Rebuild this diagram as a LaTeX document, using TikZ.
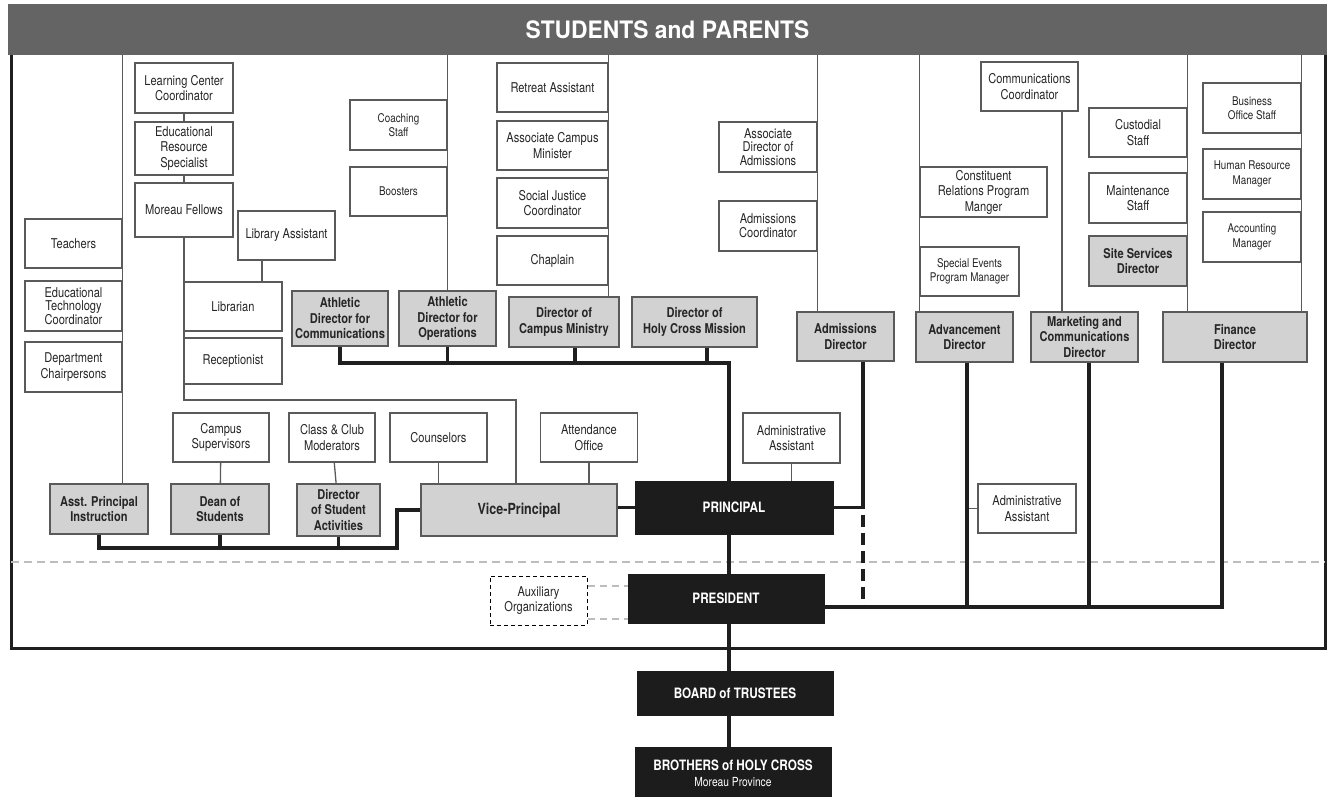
\documentclass[tikz,border=0pt]{standalone}
\usepackage{fontspec}
\setmainfont{TeX Gyre Heros}[FakeStretch=0.82]
\newfontfamily\bannerfont{TeX Gyre Heros}[FakeStretch=0.95]
\usepackage{tikz}
\definecolor{bannergray}{HTML}{646464}
\definecolor{boxline}{HTML}{5A5A5A}
\definecolor{headfill}{HTML}{D2D2D2}
\definecolor{chieffill}{HTML}{1C1C1C}
\definecolor{inkgray}{HTML}{262626}
\definecolor{sepgray}{HTML}{BDBDBD}

\begin{document}
\begin{tikzpicture}[x=1pt,y=1pt,
  staff/.style={draw=boxline, line width=1.2pt, fill=white, text=inkgray, align=center, inner sep=1pt,
    minimum width=97pt, minimum height=49pt, font=\fontsize{13.5}{15.5}\selectfont},
  smallfont/.style={font=\fontsize{12}{14.5}\selectfont},
  tightfont/.style={font=\fontsize{13.5}{13.8}\selectfont},
  lead/.style={staff, fill=headfill, font=\bfseries\fontsize{13.5}{15.5}\selectfont},
  chief/.style={draw=chieffill, fill=chieffill, text=white, align=center, inner sep=1pt,
    minimum width=196pt, font=\bfseries\fontsize{14.3}{16}\selectfont},
  auxbox/.style={staff, draw=black, line width=1pt, dash pattern=on 4pt off 3pt},
  link/.style={draw=boxline, line width=1.3pt},
  trunk/.style={draw=black!88, line width=3.2pt},
  auxlink/.style={draw=sepgray, line width=1.5pt, dash pattern=on 7pt off 5pt},
  outline/.style={draw=black!88, line width=3pt}]

\useasboundingbox (0,0) rectangle (1332,-797);

\draw[outline] (11,-55) -- (11,-648) -- (1325,-648) -- (1325,-55);
\draw[sepgray, line width=2pt, dash pattern=on 8pt off 5pt] (11,-562) -- (1325,-562);

\node[fill=bannergray, minimum width=1319pt, minimum height=51pt, inner sep=0pt, text=white,
  font=\bannerfont\bfseries\fontsize{24}{26}\selectfont] (banner) at (667.5,-29.5) {STUDENTS and PARENTS};

% instruction side
\node[staff] (teachers) at (73.5,-243.5) {Teachers};
\node[staff, tightfont, minimum height=50pt] (edtech) at (73.5,-306) {Educational\\Technology\\Coordinator};
\node[staff, minimum height=50pt] (dept) at (73.5,-367) {Department\\Chairpersons};
\node[staff, minimum width=98pt, minimum height=50pt] (lcc) at (184,-88) {Learning Center\\Coordinator};
\node[staff, minimum width=98pt, minimum height=53pt] (ers) at (184,-148.5) {Educational\\Resource\\Specialist};
\node[staff, minimum width=98pt, minimum height=54pt] (moreau) at (184,-210) {Moreau Fellows};
\node[staff] (libasst) at (286.5,-235.5) {Library Assistant};
\node[staff, minimum width=98pt] (librarian) at (233,-306.5) {Librarian};
\node[staff, minimum width=98pt, minimum height=46pt] (recept) at (233,-361) {Receptionist};
\node[staff, smallfont, minimum height=50pt] (coach) at (398.5,-125) {Coaching\\Staff};
\node[staff, smallfont] (boost) at (398.5,-191.5) {Boosters};

\node[lead, minimum width=96pt, minimum height=55pt] (adc) at (340,-318.5) {Athletic\\Director for\\Communications};
\node[lead, minimum height=55pt] (ado) at (447.5,-318.5) {Athletic\\Director for\\Operations};
\node[lead, minimum width=110pt, minimum height=50pt] (dcm) at (564,-322) {Director of\\Campus Ministry};
\node[lead, minimum width=125pt, minimum height=50pt] (dhcm) at (694.5,-322) {Director of\\Holy Cross Mission};

\node[staff, minimum width=111pt] (retreat) at (552.5,-87.5) {Retreat Assistant};
\node[staff, minimum width=111pt] (assoccm) at (552.5,-145.5) {Associate Campus\\Minister};
\node[staff, minimum width=111pt, minimum height=50pt] (socjust) at (552.5,-203) {Social Justice\\Coordinator};
\node[staff, minimum width=111pt] (chaplain) at (552.5,-260.5) {Chaplain};

\node[staff, tightfont, minimum width=98pt, minimum height=50pt] (assocadm) at (768,-147) {Associate\\Director of\\Admissions};
\node[staff, tightfont, minimum width=98pt, minimum height=50pt] (admco) at (768,-226) {Admissions\\Coordinator};
\node[lead] (admdir) at (845.5,-336.5) {Admissions\\Director};

\node[chief, minimum width=198pt, minimum height=53pt] (principal) at (734,-507.5) {PRINCIPAL};
\node[lead, minimum width=196pt, minimum height=52pt, font=\bfseries\fontsize{15.3}{17}\selectfont] (vp) at (519,-510) {Vice-Principal};

\node[staff] (attend) at (589,-437.5) {Attendance\\Office};
\node[staff] (couns) at (438.5,-437.5) {Counselors};
\node[staff, minimum height=50pt] (adminasst) at (791.5,-438) {Administrative\\Assistant};
\node[staff, minimum width=96pt] (campus) at (221,-437.5) {Campus\\Supervisors};
\node[staff, minimum width=86pt] (clubs) at (332,-437.5) {Class \& Club\\Moderators};
\node[lead, minimum width=98pt, minimum height=50pt] (api) at (99,-509) {Asst. Principal\\Instruction};
\node[lead, minimum width=98pt, minimum height=50pt] (dean) at (220,-509) {Dean of\\Students};
\node[lead, minimum width=83pt, minimum height=52pt] (dsa) at (338.5,-510) {Director\\of Student\\Activities};

% business side
\node[lead, minimum height=50pt] (advdir) at (964.5,-337) {Advancement\\Director};
\node[lead, minimum width=107pt, minimum height=50pt] (mktdir) at (1084.5,-337) {Marketing and\\Communications\\Director};
\node[lead, minimum width=144pt, minimum height=50pt] (findir) at (1235,-337) {Finance\\Director};
\node[staff, minimum width=98pt] (advasst) at (1027,-508.5) {Administrative\\Assistant};
\node[staff, minimum width=127pt, minimum height=50pt] (constit) at (983.5,-192) {Constituent\\Relations Program\\Manger};
\node[staff, smallfont, minimum width=99pt] (events) at (969.5,-271.5) {Special Events\\Program Manager};
\node[staff] (commco) at (1029.5,-86.5) {Communications\\Coordinator};
\node[staff, minimum width=98pt] (custod) at (1138,-132.5) {Custodial\\Staff};
\node[staff, minimum width=98pt, minimum height=50pt] (maint) at (1138,-198) {Maintenance\\Staff};
\node[lead, minimum width=98pt, minimum height=50pt] (site) at (1138,-261) {Site Services\\Director};
\node[staff, smallfont, minimum width=98pt, minimum height=50pt] (bos) at (1252,-108) {Business\\Office Staff};
\node[staff, smallfont, minimum width=98pt, minimum height=50pt] (hrm) at (1252,-174) {Human Resource\\Manager};
\node[staff, smallfont, minimum width=98pt, minimum height=50pt] (acct) at (1252,-237) {Accounting\\Manager};

\node[auxbox] (aux) at (538.5,-600.5) {Auxiliary\\Organizations};
\node[chief, minimum height=49pt] (pres) at (726,-598.5) {PRESIDENT};
\node[chief, minimum height=44pt] (board) at (735,-693) {BOARD of TRUSTEES};
\node[chief, minimum height=52pt] (brothers) at (733,-773) {BROTHERS of HOLY CROSS\\{\mdseries\fontsize{12.5}{14}\selectfont Moreau Province}};

\coordinate (athbus) at (729,-363);
\coordinate (vpjoin) at (516,-400);
\coordinate (lbus) at (397,-548);
\coordinate (admdrop) at ([xshift=17.5pt]admdir.south);
\coordinate (advdrop) at ([xshift=2.5pt]advdir.south);
\coordinate (mktdrop) at ([xshift=4.5pt]mktdir.south);
\coordinate (findrop) at ([xshift=-13pt]findir.south);
\coordinate (presbus) at ([yshift=-8.5pt]pres.east);

% thin reporting lines
\draw[link] (api.north -| teachers.east) -- (banner.south -| teachers.east);
\draw[link] (lcc) -- (ers) -- (moreau);
\draw[link] (moreau.south) |- (vpjoin) -- (vpjoin |- vp.north);
\draw[link] ([xshift=-24.5pt]libasst.south) -- ([xshift=-24.5pt]libasst.south |- librarian.north);
\draw[link] (ado.north) -- (ado.north |- banner.south);
\draw[link] (dcm.north -| chaplain.east) -- (banner.south -| chaplain.east);
\draw[link] (admdir.north -| admco.east) -- (banner.south -| admco.east);
\draw[link] (advdir.north -| constit.west) -- (banner.south -| constit.west);
\draw[link] ([xshift=32.5pt]commco.south) -- ([xshift=32.5pt]commco.south |- mktdir.north);
\draw[link] (findir.north -| custod.east) -- (banner.south -| custod.east);
\draw[link] (findir.north -| bos.east) -- (banner.south -| bos.east);
\draw[link] (campus) -- (dean);
\draw[link] (clubs) -- (dsa);
\draw[link] (couns.south) -- (couns.south |- vp.north);
\draw[link] (attend.south) -- (attend.south |- vp.north);
\draw[link] (adminasst.south) -- (adminasst.south |- principal.north);
\draw[link] (advasst.west) -- (advasst.west -| advdrop);
\draw[auxlink] ([yshift=14.5pt]aux.east) -- ([yshift=14.5pt]aux.east -| pres.west);
\draw[auxlink] ([yshift=-18.5pt]aux.east) -- ([yshift=-18.5pt]aux.east -| pres.west);

% line of authority
\draw[trunk] (adc.south) |- (athbus) -- (athbus |- principal.north);
\draw[trunk] (ado.south) -- (ado.south |- athbus);
\draw[trunk] ([xshift=11pt]dcm.south) -- ([xshift=11pt]dcm.south |- athbus);
\draw[trunk] ([xshift=12.5pt]dhcm.south) -- ([xshift=12.5pt]dhcm.south |- athbus);
\draw[trunk] (admdrop) |- (principal.east);
\draw[trunk, dash pattern=on 12pt off 6pt] ([yshift=-7pt]admdrop |- principal.east) -- (admdrop |- presbus);
\draw[trunk] (principal.west) -- (principal.west -| vp.east);
\draw[trunk] (api.south) |- (lbus) |- (vp.west);
\draw[trunk] (dean.south) -- (dean.south |- lbus);
\draw[trunk] (dsa.south) -- (dsa.south |- lbus);
\draw[trunk] (principal.south -| athbus) -- (pres.north -| athbus);
\draw[trunk] (pres.south -| athbus) -- (board.north -| athbus);
\draw[trunk] (board.south -| athbus) -- (brothers.north -| athbus);
\draw[trunk] (presbus) -| (findrop);
\draw[trunk] (advdrop) -- (advdrop |- presbus);
\draw[trunk] (mktdrop) -- (mktdrop |- presbus);
\end{tikzpicture}
\end{document}
